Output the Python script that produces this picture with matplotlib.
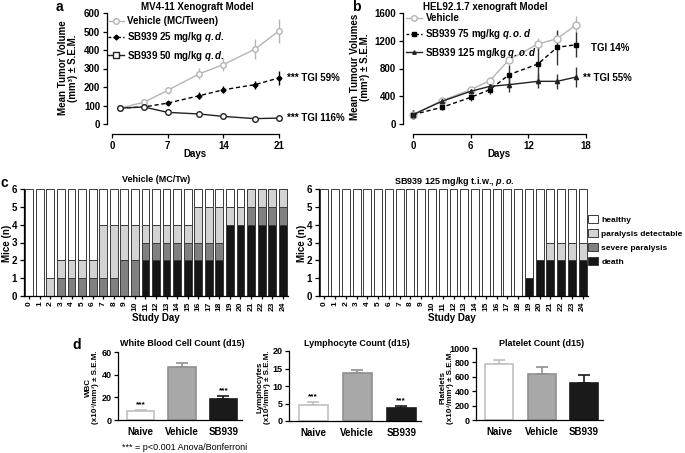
import matplotlib
matplotlib.use('Agg')
import matplotlib.pyplot as plt
import numpy as np
from matplotlib.patches import Patch
from matplotlib.lines import Line2D

# Fonts - bold Arial-like look
plt.rcParams['font.family'] = ['Liberation Sans', 'DejaVu Sans']
plt.rcParams['font.weight'] = 'bold'
plt.rcParams['axes.labelweight'] = 'bold'
plt.rcParams['mathtext.fontset'] = 'custom'
plt.rcParams['mathtext.rm'] = 'Liberation Sans:bold'
plt.rcParams['mathtext.it'] = 'Liberation Sans:bold:italic'
plt.rcParams['mathtext.bf'] = 'Liberation Sans:bold'

# ---- panel a : MV4-11 xenograft ----
days_a = [1, 4, 7, 11, 14, 18, 21]
veh_a = [86, 117, 182, 272, 321, 405, 504]
veh_a_err = [3, 9, 18, 30, 36, 54, 65]
sb25_a = [86, 92, 113, 153, 185, 213, 249]
sb25_a_err = [3, 5, 10, 18, 18, 22, 40]
sb50_a = [86, 92, 63, 54, 41, 29, 32]
sb50_a_err = [3, 5, 8, 6, 6, 5, 8]

# ---- panel b : HEL92.1.7 xenograft ----
days_b = [0, 3, 6, 8, 10, 13, 15, 17]
veh_b = [135, 336, 495, 625, 927, 1153, 1230, 1432]
veh_b_err = [60, 20, 40, 30, 40, 85, 105, 120]
sb75_b = [135, 240, 384, 495, 711, 865, 1105, 1143]
sb75_b_err = [60, 40, 50, 60, 140, 260, 250, 180]
sb125_b = [135, 327, 471, 543, 567, 615, 615, 678]
sb125_b_err = [60, 30, 40, 40, 110, 100, 110, 140]

# ---- panel c : paralysis scores per study day ----
study_days = list(range(25))
veh_death = [0, 0, 0, 0, 0, 0, 0, 0, 0, 0, 0, 2, 2, 2, 2, 2, 2, 2, 2, 4, 4, 4, 4, 4, 4]
veh_severe = [0, 0, 0, 1, 1, 1, 1, 1, 1, 2, 2, 1, 1, 1, 1, 1, 1, 1, 1, 0, 0, 1, 1, 1, 1]
veh_detect = [0, 0, 1, 1, 1, 1, 1, 3, 3, 2, 2, 1, 1, 1, 1, 1, 2, 2, 2, 1, 1, 1, 1, 1, 1]
veh_healthy = [6, 6, 5, 4, 4, 4, 4, 2, 2, 2, 2, 2, 2, 2, 2, 2, 1, 1, 1, 1, 1, 0, 0, 0, 0]
sb_death = [0, 0, 0, 0, 0, 0, 0, 0, 0, 0, 0, 0, 0, 0, 0, 0, 0, 0, 0, 1, 2, 2, 2, 2, 2]
sb_severe = [0] * 25
sb_detect = [0, 0, 0, 0, 0, 0, 0, 0, 0, 0, 0, 0, 0, 0, 0, 0, 0, 0, 0, 0, 0, 1, 1, 1, 1]
sb_healthy = [6, 6, 6, 6, 6, 6, 6, 6, 6, 6, 6, 6, 6, 6, 6, 6, 6, 6, 6, 5, 4, 3, 3, 3, 3]
status_names = ['healthy', 'paralysis detectable', 'severe paralysis', 'death']

# ---- panel d : blood counts at d15 ----
groups = ['Naive', 'Vehicle', 'SB939']
wbc = [8, 46.5, 18.5]
wbc_err = [1, 4, 2.5]
lym = [4.6, 13.7, 3.8]
lym_err = [0.7, 0.8, 0.5]
plat = [780, 640, 515]
plat_err = [50, 95, 110]

W, H = 685, 453
fig = plt.figure(figsize=(W / 100, H / 100), dpi=100)


# Axes placed with pixel coordinates, measured from the top left corner
def px_axes(x0, y0, x1, y1):
    return fig.add_axes([x0 / W, 1 - y1 / H, (x1 - x0) / W, (y1 - y0) / H])


def px_text(x, y, s, **kw):
    fig.text(x / W, 1 - y / H, s, **kw)


# Prism-like look: only left/bottom spines, pushed outwards
def prism(ax, left_off=0, bottom_off=0, size=7):
    ax.spines['top'].set_visible(False)
    ax.spines['right'].set_visible(False)
    ax.spines['left'].set_position(('outward', left_off * 0.72))
    ax.spines['bottom'].set_position(('outward', bottom_off * 0.72))
    for s in ['left', 'bottom']:
        ax.spines[s].set_linewidth(0.9)
    ax.tick_params(direction='out', length=3, width=0.9, labelsize=size, pad=2)


def unclip(container):
    for child in container.get_children():
        child.set_clip_on(False)


light = '#b5b5b5'

# ================= panel a =================
ax = px_axes(112, 13, 279, 124)
prism(ax, 5, 10)
unclip(ax.errorbar(days_a, veh_a, yerr=veh_a_err, fmt='none', ecolor=light, elinewidth=1))
unclip(ax.errorbar(days_a, sb25_a, yerr=sb25_a_err, fmt='none', ecolor='black', elinewidth=1))
unclip(ax.errorbar(days_a, sb50_a, yerr=sb50_a_err, fmt='none', ecolor='#222222', elinewidth=1))
ax.plot(days_a, veh_a, color=light, lw=1, marker='o', ms=4, mfc='white', mec=light, clip_on=False, zorder=3)
ax.plot(days_a, sb25_a, color='black', lw=1, ls='--', dashes=(3, 2), marker='D', ms=2.5, clip_on=False, zorder=3)
ax.plot(days_a, sb50_a, color='#222222', lw=1, marker='o', ms=4, mfc='white', mec='#222222', clip_on=False, zorder=3)
ax.set_xlim(0, 21)
ax.set_ylim(0, 600)
ax.set_xticks([0, 7, 14, 21])
ax.set_yticks(range(0, 601, 100))
ax.text(22.0, 249, '*** TGI 59%', fontsize=7, va='center')
ax.text(22.0, 30, '*** TGI 116%', fontsize=7, va='center')
leg_a = [Line2D([], [], color=light, marker='o', mfc='white', ms=4, lw=1),
         Line2D([], [], color='black', ls='--', dashes=(2, 1.5), marker='D', ms=2.5, lw=1),
         Line2D([], [], color='#222222', marker='s', mfc='white', ms=4, lw=1)]
ax.legend(leg_a, ['Vehicle (MC/Tween)', 'SB939 25 mg/kg $\\mathit{q.d.}$', 'SB939 50 mg/kg $\\mathit{q.d.}$'],
          loc='upper left', bbox_to_anchor=(108 / W, 1 - 16 / H), bbox_transform=fig.transFigure,
          frameon=False, fontsize=7, handlelength=1.6, handletextpad=0.4, labelspacing=0.45,
          borderpad=0, borderaxespad=0)
px_text(197, 7, 'MV4-11 Xenograft Model', fontsize=7, ha='center', va='center')
px_text(68, 68, 'Mean Tumor Volume\n(mm³) ± S.E.M.', fontsize=7, ha='center', va='center', rotation=90,
        linespacing=1.1)
px_text(195, 154, 'Days', fontsize=7, ha='center', va='center')
px_text(59, 0, 'a', fontsize=10, ha='center', va='top')

# ================= panel b =================
ax = px_axes(413, 13, 586, 124)
prism(ax, 10, 10)
unclip(ax.errorbar(days_b, veh_b, yerr=veh_b_err, fmt='none', ecolor=light, elinewidth=1))
unclip(ax.errorbar(days_b, sb75_b, yerr=sb75_b_err, fmt='none', ecolor='#333333', elinewidth=1))
unclip(ax.errorbar(days_b, sb125_b, yerr=sb125_b_err, fmt='none', ecolor='#333333', elinewidth=1))
ax.plot(days_b, veh_b, color=light, lw=1, marker='o', ms=5, mfc='white', mec=light, clip_on=False, zorder=3)
ax.plot(days_b, sb75_b, color='black', lw=1, ls='--', dashes=(3, 2), marker='s', ms=3, clip_on=False, zorder=3)
ax.plot(days_b, sb125_b, color='#222222', lw=1, marker='^', ms=3, clip_on=False, zorder=3)
ax.set_xlim(0, 18)
ax.set_ylim(0, 1600)
ax.set_xticks([0, 6, 12, 18])
ax.set_yticks(range(0, 1601, 400))
ax.text(18.5, 1100, 'TGI 14%', fontsize=7, va='center')
ax.text(17.7, 660, '** TGI 55%', fontsize=7, va='center')
leg_b = [Line2D([], [], color=light, marker='o', mfc='white', ms=4, lw=1),
         Line2D([], [], color='black', ls='--', dashes=(2, 1.5), marker='s', ms=2.5, lw=1),
         Line2D([], [], color='#222222', marker='^', ms=2.5, lw=1)]
ax.legend(leg_b, ['Vehicle', 'SB939 75 mg/kg $\\mathit{q.o.d}$', 'SB939 125 mg/kg $\\mathit{q.o.d}$'],
          loc='upper left', bbox_to_anchor=(406 / W, 1 - 13 / H), bbox_transform=fig.transFigure,
          frameon=False, fontsize=7, handlelength=1.6, handletextpad=0.4, labelspacing=0.45,
          borderpad=0, borderaxespad=0)
px_text(485, 7, 'HEL92.1.7 xenograft Model', fontsize=7, ha='center', va='center')
px_text(360, 67, 'Mean Tumour Volumes\n(mm³) ± S.E.M.', fontsize=7, ha='center', va='center', rotation=90,
        linespacing=1.1)
px_text(499, 154, 'Days', fontsize=7, ha='center', va='center')
px_text(356, 0, 'b', fontsize=10, ha='center', va='top')

# ================= panel c =================
status_colors = ['white', '#d3d3d3', '#808080', '#151515']


def stacked(ax, healthy, detect, severe, death):
    bottom = np.zeros(len(study_days))
    for vals, col in zip([death, severe, detect, healthy], status_colors[::-1]):
        ax.bar(study_days, vals, bottom=bottom, width=0.74, color=col, edgecolor='#3a3a3a', lw=0.7)
        bottom += np.array(vals)
    prism(ax, 0, 0, size=6)
    ax.set_xlim(-0.5, 24.5)
    ax.set_ylim(0, 6)
    ax.set_xticks(study_days)
    ax.set_xticklabels([str(d) for d in study_days], rotation=90)
    ax.set_yticks(range(7))
    ax.tick_params(axis='x', length=2)
    ax.tick_params(axis='y', labelsize=7)


ax = px_axes(24, 189, 288, 296)
stacked(ax, veh_healthy, veh_detect, veh_severe, veh_death)
px_text(156, 180, 'Vehicle (MC/Tw)', fontsize=6.5, ha='center', va='center')
px_text(7, 243, 'Mice (n)', fontsize=7, ha='center', va='center', rotation=90)
px_text(156, 318, 'Study Day', fontsize=7, ha='center', va='center')
px_text(4, 176, 'c', fontsize=10, ha='center', va='top')

ax = px_axes(319, 189, 588, 296)
stacked(ax, sb_healthy, sb_detect, sb_severe, sb_death)
px_text(454, 181, 'SB939 125 mg/kg t.i.w., $\\mathit{p.o.}$', fontsize=6.5, ha='center', va='center')
px_text(302, 243, 'Mice (n)', fontsize=7, ha='center', va='center', rotation=90)
px_text(452, 318, 'Study Day', fontsize=7, ha='center', va='center')
handles = [Patch(facecolor=c, edgecolor='#3a3a3a', lw=0.7) for c in status_colors]
fig.legend(handles, status_names, loc='upper left', bbox_to_anchor=(588 / W, 1 - 215 / H),
           frameon=False, fontsize=6, handlelength=1.15, handleheight=1.15, handletextpad=0.45,
           labelspacing=0.6, borderpad=0, borderaxespad=0)

# ================= panel d =================
face = ['white', '#a8a8a8', '#1a1a1a']
edge = ['#c0c0c0', '#909090', '#1a1a1a']


def count_panel(box, vals, errs, top, step, title, ylab, ylab_x, stars):
    ax = px_axes(*box)
    x = np.arange(len(groups))
    ax.bar(x, vals, width=0.66, color=face, edgecolor=edge, lw=1.2, zorder=2)
    for i in range(len(groups)):
        ax.errorbar(x[i], vals[i], yerr=[[0], [errs[i]]], fmt='none', ecolor=edge[i], elinewidth=1.2,
                    capsize=4, capthick=1.2, zorder=1)
        if stars[i]:
            ax.text(x[i], vals[i] + errs[i] + top * 0.03, '***', fontsize=6, ha='center', va='bottom')
    prism(ax, 0, 0, size=6.5)
    ax.set_xlim(-0.55, 2.45)
    ax.set_ylim(0, top)
    ax.set_yticks(np.arange(0, top + 1, step))
    ax.set_xticks(x)
    ax.set_xticklabels(groups, fontsize=7)
    ax.tick_params(axis='x', length=0, pad=5)
    ax.tick_params(axis='y', pad=1.5)
    cx = (box[0] + box[2]) / 2
    px_text(cx + 2, 343, title, fontsize=6.5, ha='center', va='center')
    px_text(ylab_x, 387, ylab, fontsize=5.8, ha='center', va='center', rotation=90, linespacing=1.1)
    return ax


count_panel((118, 352, 242, 420), wbc, wbc_err, 60, 20, 'White Blood Cell Count (d15)',
            'WBC\n(x10³/mm³) ± S.E.M.', 92, [True, False, True])
count_panel((289, 351, 421, 421), lym, lym_err, 20, 5, 'Lymphocyte Count (d15)',
            'Lymphocytes\n(x10³/mm³) ± S.E.M.', 264, [True, False, True])
count_panel((476, 348, 603, 420), plat, plat_err, 1000, 200, 'Platelet Count (d15)',
            'Platelets\n(x10³/mm³) ± S.E.M.', 447, [False, False, False])
px_text(122, 447, '*** = p<0.001 Anova/Bonferroni', fontsize=6.5, fontweight='normal', ha='left', va='center')
px_text(77, 338, 'd', fontsize=10, ha='center', va='top')

fig.savefig('out.png', dpi=100)
